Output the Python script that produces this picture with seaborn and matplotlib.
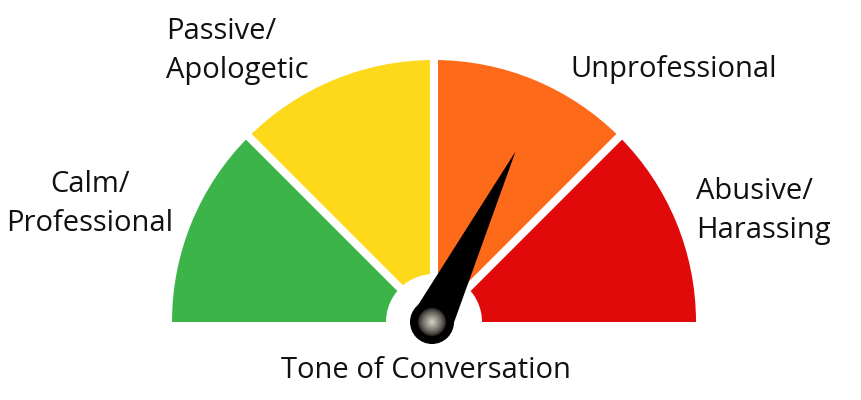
import numpy as np
import matplotlib
matplotlib.use("Agg")
import matplotlib.pyplot as plt
from matplotlib.patches import Wedge, Circle, Polygon
import seaborn as sns

# ---- data ----
categories = ["Calm/\nProfessional", "Passive/\nApologetic", "Unprofessional", "Abusive/\nHarassing"]
segment_sizes = [1, 1, 1, 1]
segment_colors = ["#3cb44a", "#fdd91b", "#fd6a1a", "#e10a0a"]
needle_value = 2.58
title_text = "Tone of Conversation"

sns.set_theme(style="white")
plt.rcParams["font.family"] = ["Open Sans", "DejaVu Sans"]

W, H = 862, 400
fig = plt.figure(figsize=(W / 100, H / 100), dpi=100)
ax = fig.add_axes([0, 0, 1, 1])
ax.set_xlim(0, W)
ax.set_ylim(0, H)
ax.set_aspect("equal")
ax.axis("off")

cx, cy = 434, 78
r_out, r_in = 262, 48
total = float(sum(segment_sizes))
bounds = np.concatenate([[0], np.cumsum(segment_sizes)]) / total

# segments
for i, col in enumerate(segment_colors):
    t1 = 180 - 180 * bounds[i + 1]
    t2 = 180 - 180 * bounds[i]
    ax.add_patch(Wedge((cx, cy), r_out, t1, t2, width=r_out - r_in,
                       facecolor=col, edgecolor="none", zorder=1))

# white gaps between segments
gap_pt = 8 * 72 / 100
for b in bounds[1:-1]:
    th = np.deg2rad(180 - 180 * b)
    ax.plot([cx, cx + (r_out + 6) * np.cos(th)], [cy, cy + (r_out + 6) * np.sin(th)],
            color="white", lw=gap_pt, solid_capstyle="butt", zorder=2)

# needle
kx, ky = cx - 2, cy
th = np.deg2rad(180 - 180 * needle_value / total)
L = 190
tip = (kx + L * np.cos(th), ky + L * np.sin(th))
hw = 21
perp = np.array([-np.sin(th), np.cos(th)])
p1 = np.array([kx, ky]) + perp * hw
p2 = np.array([kx, ky]) - perp * hw
ax.add_patch(Polygon([p1, tip, p2], closed=True, facecolor="black", edgecolor="none", zorder=4))
ax.add_patch(Circle((kx, ky), 22, facecolor="black", edgecolor="none", zorder=5))
n = 14
for k in range(n):
    rr = 14 * (1 - k / n)
    f = k / (n - 1)
    c0 = np.array([0x2a, 0x27, 0x22]) / 255
    c1 = np.array([0xd0, 0xcc, 0xc4]) / 255
    c = c0 + (c1 - c0) * f ** 0.8
    ax.add_patch(Circle((kx, ky), rr, facecolor=c, edgecolor="none", zorder=6 + k * 0.01))

# labels
fs = 21
tc = "#111111"
ls = 1.45
ax.text(90, 196, categories[0], ha="center", va="center", multialignment="center",
        fontsize=fs, color=tc, linespacing=ls)
ax.text(166, 349, categories[1], ha="left", va="center", multialignment="left",
        fontsize=fs, color=tc, linespacing=ls)
ax.text(570, 331, categories[2], ha="left", va="center", fontsize=fs, color=tc)
ax.text(696, 189, categories[3], ha="left", va="center", multialignment="left",
        fontsize=fs, color=tc, linespacing=ls)
ax.text(426, 30, title_text, ha="center", va="center", fontsize=fs, color=tc)

fig.savefig("out.png", dpi=100, facecolor="white")
